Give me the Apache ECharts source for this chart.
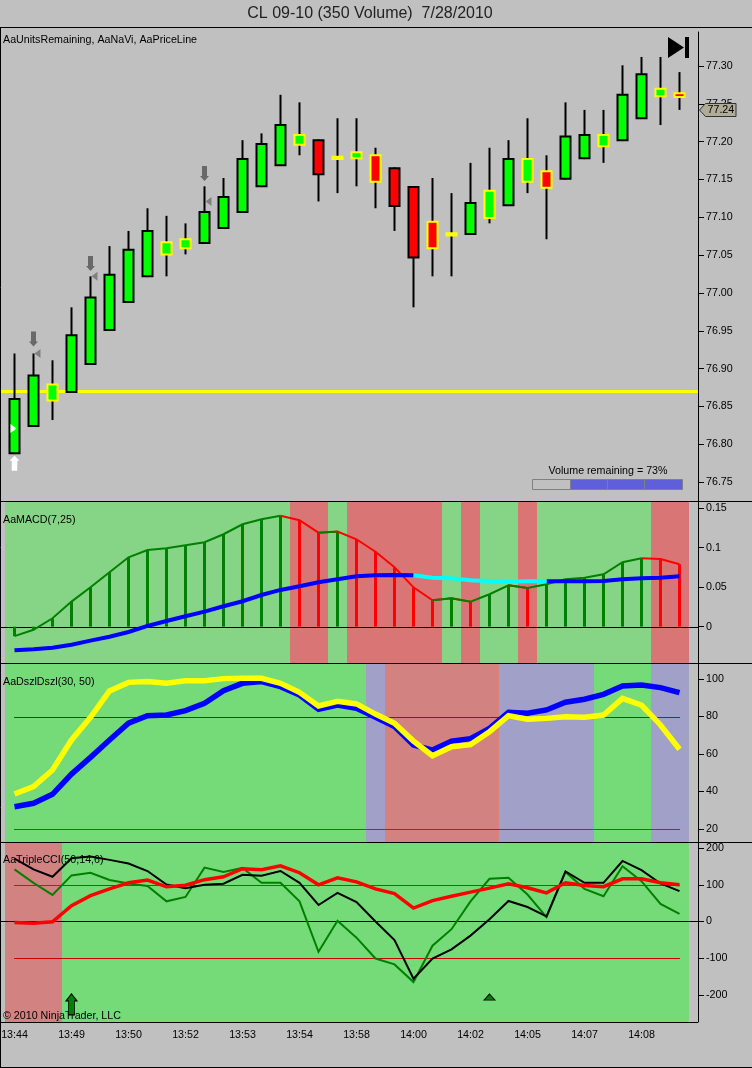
<!DOCTYPE html>
<html><head><meta charset="utf-8">
<style>html,body{margin:0;padding:0;background:#C0C0C0}#c{width:752px;height:1068px}</style>
<script src="https://cdn.jsdelivr.net/npm/echarts@6/dist/echarts.min.js"></script>
</head><body><div id="c"></div>
<script>
const tickTimes=['13:44','13:49','13:50','13:52','13:53','13:54','13:58','14:00','14:02','14:05','14:07','14:08'];
const opens=[76.788,76.824,76.858,76.869,76.906,76.951,76.988,77.022,77.051,77.059,77.066,77.086,77.107,77.141,77.169,77.196,77.202,77.177,77.178,77.182,77.165,77.140,77.094,77.076,77.078,77.099,77.116,77.147,77.161,77.151,77.178,77.194,77.202,77.231,77.260,77.264];
const closes=[76.860,76.891,76.879,76.944,76.994,77.024,77.057,77.082,77.067,77.071,77.107,77.127,77.177,77.197,77.222,77.209,77.157,77.180,77.186,77.147,77.115,77.047,77.059,77.079,77.119,77.135,77.177,77.177,77.139,77.207,77.209,77.209,77.262,77.289,77.270,77.259];
const lows=[76.787,76.823,76.832,76.868,76.905,76.950,76.987,77.021,77.022,77.051,77.065,77.085,77.106,77.140,77.168,77.182,77.121,77.132,77.141,77.112,77.082,76.981,77.022,77.022,77.077,77.092,77.115,77.132,77.071,77.150,77.177,77.172,77.201,77.230,77.222,77.242];
const highs=[76.92,76.92,76.911,76.981,77.022,77.062,77.082,77.112,77.102,77.092,77.141,77.152,77.202,77.211,77.262,77.252,77.203,77.231,77.231,77.192,77.166,77.141,77.152,77.132,77.172,77.192,77.202,77.231,77.182,77.252,77.242,77.242,77.301,77.312,77.312,77.292];
const yellowOutlineBars=[2,8,9,15,17,18,19,22,23,25,27,28,31,34,35];
const flatBars=[17,23];
const priceLine=76.87, lastPrice=77.24;
const priceTicks=[76.75,76.8,76.85,76.9,76.95,77,77.05,77.1,77.15,77.2,77.25,77.3];
const downArrows=[[1,76.939],[4,77.039],[10,77.158]];
const leftMarks=[[1,76.92],[4,77.022],[10,77.121]];
const upArrowWhite=[[0,76.775]];
const rightMarkWhite=[[0,76.821]];

const macd=[-0.012,-0.004,0.0106,0.0317,0.0498,0.0688,0.0878,0.0971,0.0992,0.103,0.1068,0.117,0.1296,0.136,0.1405,0.1347,0.119,0.1203,0.1106,0.0949,0.0752,0.0498,0.0334,0.0359,0.0317,0.041,0.0524,0.049,0.0537,0.06,0.062,0.0663,0.0815,0.0866,0.0857,0.079];
const macdSignal=[-0.0299,-0.0286,-0.0266,-0.0228,-0.0177,-0.0127,-0.0067,0.0009,0.0072,0.0132,0.019,0.0258,0.0322,0.0401,0.0465,0.0511,0.0562,0.06,0.0638,0.0651,0.0654,0.0651,0.062,0.0612,0.0587,0.0578,0.057,0.0574,0.0574,0.0574,0.0574,0.0578,0.06,0.0612,0.062,0.0638];
const macdStates='ggggggggggggggg'+'rr'+'g'+'rrrrr'+'g'+'r'+'gg'+'r'+'gggggg'+'rr';
const signalCyanFrom=21, signalCyanTo=28;
const macdTicks=[0,0.05,0.1,0.15];

const dszBlue=[31.9,33.7,38.5,49.3,58.2,67.5,76.4,80.4,80.8,83.1,87,93.8,97.7,98.6,95.9,91.5,83.8,86.1,84.4,79.6,74.6,64.8,62.1,66.9,68.2,73.7,82.2,81.7,83.5,87.6,89.2,91.8,96.3,96.8,95.4,92.7];
const dszYellow=[38.7,42.6,51.5,67.5,79.6,93.6,98.2,98.6,97.7,99.1,99.1,100.2,100.4,100.4,97.7,92.9,85.6,88.1,86.7,81.3,76.4,66.9,59.1,63.9,65,71.9,80.4,78.5,79,79.9,79.6,80.8,89.7,86.1,75.5,62.5];
const dszStates='ggggggggggggggggggg'+'p'+'rrrrrr'+'ppppp'+'ggg'+'pp';
const dszTicks=[20,40,60,80,100];

const cciBlack=[171.6,142,122,172.5,177,168,158,137.6,101,91,100,103,127.5,125,137.6,105.5,45,78,53,0,-50.5,-156,-101,-76,-38.5,6.4,56,39.5,13.8,136.7,105.5,105.5,165,140,103.7,82.6];
const cciGreen=[142,105.5,72.5,125.7,133,113,103.7,97,55,67,146.8,135,146,105.5,105.5,55,-82.6,1.8,-44,-101,-117,-165,-66,-21,55,116.5,119,73.4,12,135,89,68.8,151,110,47.7,21];
const cciRed=[-2.8,-4.6,-1,43,70.6,89,105.5,113,94.5,99,114,122,144,141,152,133,100,119,108,89,76,36.7,57,68.8,80,91,103,92,78,105.5,98,95,116.5,116.5,105.5,100];
const cciStates='rrr'+'ggggggggggggggggggggggggggggggggg';
const cciTicks=[-200,-100,0,100,200];
const cciUpArrow=[[3,-226]];
const cciTriangle=[[25,-206]];

const categories=Array.from({length:37},(_,i)=>i%3===0?(tickTimes[i/3]||''):'');
const font='"Liberation Sans",Arial,sans-serif';
const G='#00FF00',R='#FF0000',Y='#FFFF00',K='#000000';
const macdShades={g:'#86D586',r:'#D97575'};
const dszShades={g:'#75DB79',r:'#D38282',p:'#A0A0C8'};
const ohlcBody=opens.map((o,i)=>{
  const c=closes[i];
  const fill=flatBars.includes(i)?Y:(c>o?G:R);
  const edge=yellowOutlineBars.includes(i)?Y:K;
  return {value:[o,c,Math.min(o,c),Math.max(o,c)],itemStyle:{color:fill,color0:fill,borderColor:edge,borderColor0:edge,borderColorDoji:edge}};
});
const wicks=opens.map((o,i)=>[o,closes[i],lows[i],highs[i]]);

function shade(ix,states,palette){
  return {type:'custom',xAxisIndex:ix,yAxisIndex:ix,z:1,silent:true,
    data:states.split('').map((s,i)=>[i,0,s]),
    encode:{x:0,y:1},
    renderItem(p,api){
      const i=api.value(0),cs=p.coordSys,w=api.size([1,0])[0];
      const x=api.coord([i,0])[0]-w/2;
      return {type:'rect',shape:{x,y:cs.y,width:w,height:cs.height},style:{fill:palette[states[i]]}};
    }};
}
function hline(ix,value,color,width,x1,x2,z){
  return {type:'custom',xAxisIndex:ix,yAxisIndex:ix,z:z||2,silent:true,data:[[0,value]],encode:{x:0,y:1},
    renderItem(p,api){
      let y=Math.round(api.coord([0,api.value(1)])[1]);
      if(width%2) y+=0.5;
      return {type:'line',shape:{x1,y1:y,x2,y2:y},style:{stroke:color,lineWidth:width}};
    }};
}
function line(ix,data,color,width,z){
  return {type:'line',xAxisIndex:ix,yAxisIndex:ix,data,symbol:'none',silent:true,z:z||3,
    lineStyle:{color,width,cap:'butt',join:'miter'},connectNulls:false};
}
function marks(ix,data,path,size,color,border,offset){
  return {type:'scatter',xAxisIndex:ix,yAxisIndex:ix,data,symbol:path,symbolSize:size,symbolOffset:offset||[0,0],silent:true,z:6,
    itemStyle:{color,opacity:1,borderColor:border||color,borderWidth:border?1:0}};
}
const arrowDown='path://M2 0H7V10H9L4.5 15L0 10H2Z', arrowUp='path://M4.5 0L9 5H7V15H2V5H0Z';
const triLeft='path://M6 0V9L0 4.5Z', triRight='path://M0 0V9L6 4.5Z', triUp='path://M5.5 0L11 6H0Z';

const macdRedPts=macd.map((v,i)=>(macdStates[i]==='r'||macdStates[i+1]==='r')?v:null);
const macdGreenPts=macd.map((v,i)=>(macdStates[i]==='g'||macdStates[i+1]==='g')?v:null);
const sigBlue=macdSignal.map((v,i)=>(i<=signalCyanFrom||i>=signalCyanTo)?v:null);
const sigCyan=macdSignal.map((v,i)=>(i>=signalCyanFrom&&i<=signalCyanTo)?v:null);

const grids=[{top:32,height:469},{top:502,height:161},{top:664,height:178},{top:843,height:179}].map(g=>({left:5,width:703,top:g.top,height:g.height,outerBoundsMode:'none',containLabel:false}));
const labelSize=10.7;
const xAxes=grids.map((g,i)=>({type:'category',gridIndex:i,data:categories,show:i===3,boundaryGap:true,
  axisLine:{show:false},axisTick:{show:true,alignWithLabel:true,interval:2,length:5,lineStyle:{color:K}},
  axisLabel:{show:true,interval:2,color:K,fontFamily:font,fontSize:labelSize,margin:8,hideOverlap:false},splitLine:{show:false}}));
function yAx(i,min,max,ticks,fmt){
  return {type:'value',gridIndex:i,position:'right',offset:-10,min,max,scale:true,
    axisLine:{show:true,onZero:false,lineStyle:{color:K,width:1}},
    axisTick:{show:true,length:6,customValues:ticks,lineStyle:{color:K}},
    axisLabel:{show:true,customValues:ticks,color:K,fontFamily:font,fontSize:labelSize,margin:8,formatter:fmt,hideOverlap:false,showMinLabel:true,showMaxLabel:true},
    splitLine:{show:false}};
}
const txt=(text,left,top,size,extra)=>Object.assign({text,left,top,padding:0,textStyle:{fontFamily:font,fontSize:size,fontWeight:'normal',color:K}},extra||{});
const frameLine=(x1,y1,x2,y2)=>({type:'line',shape:{x1,y1,x2,y2},style:{stroke:K,lineWidth:1},z:50,silent:true});

const option={
  animation:false,backgroundColor:'#C0C0C0',
  title:[
    Object.assign(txt('CL 09-10 (350 Volume)  7/28/2010',370,6,16,{textAlign:'center'}),{textStyle:{fontFamily:font,fontSize:16,fontWeight:'normal',color:'#222'}}),
    txt('AaUnitsRemaining, AaNaVi, AaPriceLine',3,35,labelSize),
    txt('AaMACD(7,25)',3,515,labelSize),
    txt('AaDszlDszl(30, 50)',3,677,labelSize),
    txt('AaTripleCCI(50,14,6)',3,855,labelSize),
    txt('© 2010 NinjaTrader, LLC',3,1011,labelSize),
    txt('Volume remaining = 73%',608,466,labelSize,{textAlign:'center'})
  ],
  grid:grids,xAxis:xAxes,
  yAxis:[
    yAx(0,76.725,77.345,priceTicks,v=>v.toFixed(2)),
    yAx(1,-0.046,0.1578,macdTicks),
    yAx(2,13.07,108,dszTicks),
    yAx(3,-274,214,cciTicks)
  ],
  series:[
    hline(0,priceLine,Y,3,1,698,2),
    {type:'candlestick',xAxisIndex:0,yAxisIndex:0,data:wicks,barWidth:1,silent:true,z:3,
      itemStyle:{color:K,color0:K,borderColor:K,borderColor0:K,borderColorDoji:K,borderWidth:2}},
    {type:'candlestick',xAxisIndex:0,yAxisIndex:0,data:ohlcBody,barWidth:10,silent:true,z:4,
      itemStyle:{borderWidth:2}},
    marks(0,downArrows,arrowDown,[9,15],'#696969'),
    marks(0,leftMarks,triLeft,[6,9],'#808080',null,[4,0]),
    marks(0,upArrowWhite,arrowUp,[10,15],'#FFFFFF'),
    marks(0,rightMarkWhite,triRight,[6,9],'#FFFFFF',null,[-1,0]),
    {type:'custom',xAxisIndex:0,yAxisIndex:0,z:7,silent:true,data:[[36,lastPrice]],encode:{x:0,y:1},clip:false,
      renderItem(p,api){
        const c=api.coord([36,api.value(1)]),x=c[0],y=Math.round(c[1])-1;
        return {type:'group',children:[
          {type:'polygon',shape:{points:[[x+1,y],[x+7,y-6.5],[x+37.5,y-6.5],[x+37.5,y+6.5],[x+7,y+6.5]]},style:{fill:'#B0AC98',stroke:'#333',lineWidth:1}},
          {type:'text',style:{text:api.value(1).toFixed(2),x:x+9,y:y,fill:K,font:labelSize+'px '+font,align:'left',verticalAlign:'middle'}}
        ]};
      }},

    shade(1,macdStates,macdShades),
    hline(1,0,K,1,1,698,3),
    {type:'bar',xAxisIndex:1,yAxisIndex:1,silent:true,z:4,barWidth:3,
      data:macd.map((v,i)=>({value:v,itemStyle:{color:macdStates[i]==='g'?'#008000':R}}))},
    line(1,macdRedPts,R,2,5),
    line(1,macdGreenPts,'#008000',2,5),
    line(1,sigBlue,'#0000FF',4,6),
    line(1,sigCyan,'#00FFFF',4,6),

    shade(2,dszStates,dszShades),
    hline(2,80,'#006400',1,14,680,2),
    hline(2,20,R,1,14,680,2),
    line(2,dszBlue,'#0000FF',5.5,4),
    line(2,dszYellow,Y,5.5,5),

    shade(3,cciStates,dszShades),
    hline(3,100,'#008000',1,14,680,2),
    hline(3,0,K,1,1,698,2),
    hline(3,-100,'#CC0000',1,14,680,2),
    line(3,cciGreen,'#008000',2,3),
    line(3,cciBlack,K,2,4),
    line(3,cciRed,R,3.5,5),
    marks(3,cciUpArrow,arrowUp,[11,21],'#008000','#000'),
    marks(3,cciTriangle,triUp,[11,6],'#008000','#000')
  ],
  graphic:[
    frameLine(0,27.5,752,27.5),frameLine(0.5,27,0.5,1068),
    frameLine(0,501.5,752,501.5),frameLine(0,663.5,752,663.5),frameLine(0,842.5,752,842.5),
    frameLine(0,1022.5,698,1022.5),frameLine(0,1067.5,752,1067.5),
    {type:'polygon',shape:{points:[[668,37],[684,47.5],[668,58]]},style:{fill:K},z:50,silent:true},
    {type:'rect',shape:{x:685,y:37,width:4,height:21},style:{fill:K},z:50,silent:true},
    {type:'rect',shape:{x:532.5,y:479.5,width:38,height:10},style:{fill:'#C0C0C0',stroke:'#808080',lineWidth:1},z:50,silent:true},
    {type:'rect',shape:{x:570.5,y:479.5,width:37,height:10},style:{fill:'#5F5FDC',stroke:'#808080',lineWidth:1},z:50,silent:true},
    {type:'rect',shape:{x:607.5,y:479.5,width:37,height:10},style:{fill:'#5F5FDC',stroke:'#808080',lineWidth:1},z:50,silent:true},
    {type:'rect',shape:{x:644.5,y:479.5,width:38,height:10},style:{fill:'#5F5FDC',stroke:'#808080',lineWidth:1},z:50,silent:true}
  ]
};
const chart=echarts.init(document.getElementById('c'),null,{renderer:'canvas',width:752,height:1068});
chart.setOption(option);
</script></body></html>
